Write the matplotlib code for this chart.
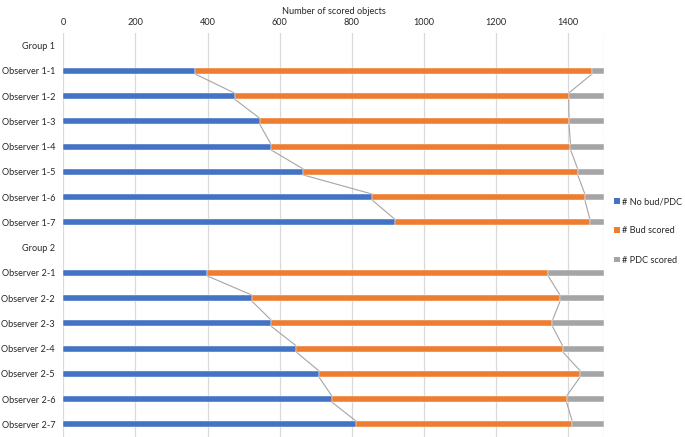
import numpy as np
import matplotlib.pyplot as plt
from matplotlib.patches import Patch

# Rows as in the chart (group headers are empty rows)
labels = ['Group 1', 'Observer 1-1', 'Observer 1-2', 'Observer 1-3', 'Observer 1-4',
          'Observer 1-5', 'Observer 1-6', 'Observer 1-7',
          'Group 2', 'Observer 2-1', 'Observer 2-2', 'Observer 2-3', 'Observer 2-4',
          'Observer 2-5', 'Observer 2-6', 'Observer 2-7']

# Values (total per observer = 1500)
no_bud = [0, 365, 475, 545, 575, 665, 857, 920,
          0, 399, 523, 577, 645, 709, 745, 813]
bud = [0, 1102, 927, 858, 832, 762, 590, 541,
       0, 946, 855, 780, 740, 725, 651, 599]
pdc = [0, 33, 98, 97, 93, 73, 53, 39,
       0, 155, 122, 143, 115, 66, 104, 88]

series_names = ['# No bud/PDC', '# Bud scored', '# PDC scored']
colors = ['#4472C4', '#ED7D31', '#A5A5A5']
groups = [[1, 2, 3, 4, 5, 6, 7], [9, 10, 11, 12, 13, 14, 15]]

plt.rcParams['font.family'] = ['Lato', 'DejaVu Sans']
fs = 6.6

fig = plt.figure(figsize=(6.85, 4.37), dpi=100)
ax = fig.add_axes([63.4 / 685, 0.0, (604 - 63.4) / 685, 1 - 33 / 437])

y = np.arange(len(labels))
h = 0.24
vals = np.array([no_bud, bud, pdc], dtype=float)
left = np.zeros(len(labels))
for k in range(3):
    mask = vals[k] > 0
    ax.barh(y[mask], vals[k][mask], left=left[mask], height=h, color=colors[k],
            edgecolor='white', linewidth=0.3, zorder=3)
    left = left + vals[k]

# Series lines between consecutive observers
cum = np.cumsum(vals, axis=0)
for g in groups:
    for k in range(2):
        for a, b in zip(g[:-1], g[1:]):
            ax.plot([cum[k][a], cum[k][b]], [y[a] + h / 2, y[b] - h / 2],
                    color='#A5A5A5', linewidth=0.8, zorder=2)

ax.set_xlim(0, 1500)
ax.set_ylim(len(labels) - 0.5, -0.5)
ax.set_yticks(y)
ax.set_yticklabels(labels, fontsize=fs, color='#262626')
ax.set_xticks(np.arange(0, 1401, 200))
ax.xaxis.tick_top()
ax.xaxis.set_label_position('top')
ax.set_xlabel('Number of scored objects', fontsize=fs, color='#262626', labelpad=3)
ax.tick_params(axis='x', length=0, labelsize=fs, labelcolor='#262626', pad=4)
ax.tick_params(axis='y', length=0, pad=6)

for s in ax.spines.values():
    s.set_visible(False)
for xv in list(range(0, 1401, 200)) + [1500]:
    ax.axvline(xv, color='#D9D9D9', linewidth=0.9, zorder=0)

handles = [Patch(facecolor=c, edgecolor='none') for c in colors]
fig.legend(handles, series_names, loc='center left', bbox_to_anchor=(606 / 685, 1 - 231 / 437),
           frameon=False, fontsize=fs, handlelength=0.6, handleheight=0.6,
           handletextpad=0.3, labelspacing=2.2, labelcolor='#262626')

fig.savefig('out.png', dpi=100)
